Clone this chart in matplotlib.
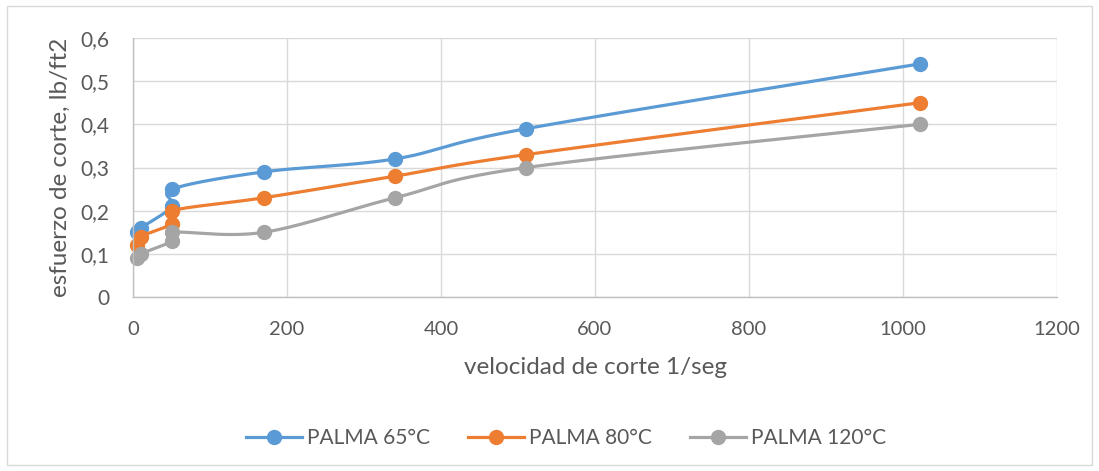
import numpy as np
import matplotlib
matplotlib.use("Agg")
import matplotlib.pyplot as plt
from matplotlib.patches import Rectangle
from matplotlib.ticker import FuncFormatter

shear_rate = [5.11, 10.22, 51.1, 51.1, 170.3, 340.6, 510.9, 1021.8]
palma_65 = [0.15, 0.16, 0.21, 0.25, 0.29, 0.32, 0.39, 0.54]
palma_80 = [0.12, 0.14, 0.17, 0.20, 0.23, 0.28, 0.33, 0.45]
palma_120 = [0.09, 0.10, 0.13, 0.15, 0.15, 0.23, 0.30, 0.40]
series_names = ["PALMA 65°C", "PALMA 80°C", "PALMA 120°C"]
colors = ["#5B9BD5", "#ED7D31", "#A5A5A5"]
x_ticks = [0, 200, 400, 600, 800, 1000, 1200]
y_ticks = [0, 0.1, 0.2, 0.3, 0.4, 0.5, 0.6]

plt.rcParams['font.family'] = ['Lato', 'DejaVu Sans']

W, H = 1099, 471
fig = plt.figure(figsize=(W / 100, H / 100), dpi=100)
ax = fig.add_axes([133 / W, 1 - 297 / H, (1057 - 133) / W, (297 - 38) / H])
ax.set_xlim(0, 1200)
ax.set_ylim(0, 0.6)
ax.set_xticks(x_ticks)
ax.set_yticks(y_ticks)
ax.yaxis.set_major_formatter(FuncFormatter(lambda v, p: ("%g" % round(v, 2)).replace('.', ',')))
ax.grid(True, color="#D9D9D9", linewidth=1.0)
ax.set_axisbelow(True)
for s in ["top", "right"]:
    ax.spines[s].set_visible(False)
for s in ["left", "bottom"]:
    ax.spines[s].set_color("#BFBFBF")
    ax.spines[s].set_linewidth(1.0)
ax.tick_params(axis='y', length=0, labelsize=15, colors="#595959", pad=17)
ax.tick_params(axis='x', length=0, labelsize=14.5, colors="#595959", pad=17)
ax.set_xlabel("velocidad de corte 1/seg", fontsize=17.5, color="#595959", labelpad=14)
ax.set_ylabel("esfuerzo de corte, lb/ft2", fontsize=17.5, color="#595959", labelpad=7)


def smooth(xs, ys, n=30):
    # Catmull-Rom / Excel-like smoothing in display coordinates
    pts = ax.transData.transform(np.column_stack([xs, ys]))
    out = [pts[0]]
    m = len(pts)
    for i in range(m - 1):
        p0 = pts[i - 1] if i > 0 else pts[i]
        p1 = pts[i]
        p2 = pts[i + 1]
        p3 = pts[i + 2] if i + 2 < m else pts[i + 1]
        c1 = p1 + (p2 - p0) / 6.0
        c2 = p2 - (p3 - p1) / 6.0
        t = np.linspace(0, 1, n)[1:, None]
        seg = ((1 - t) ** 3) * p1 + 3 * ((1 - t) ** 2) * t * c1 + 3 * (1 - t) * t ** 2 * c2 + t ** 3 * p2
        out.extend(seg)
    out = np.array(out)
    d = ax.transData.inverted().transform(out)
    return d[:, 0], d[:, 1]


for name, ys, c in zip(series_names, [palma_65, palma_80, palma_120], colors):
    sx, sy = smooth(shear_rate, ys)
    ax.plot(sx, sy, color=c, lw=2.3, solid_capstyle='round', clip_on=False)
    ax.plot(shear_rate, ys, 'o', color=c, ms=10, clip_on=False)
    ax.plot([], [], '-o', color=c, lw=2.3, ms=10, label=name)

leg = fig.legend(loc='center', bbox_to_anchor=(0.515, 1 - 438 / H), ncol=3, frameon=False,
                 fontsize=15, handlelength=2.7, columnspacing=1.8, handletextpad=0.25)
for t in leg.get_texts():
    t.set_color("#595959")

fig.patches.append(Rectangle((7 / W, 6 / H), (W - 14) / W, (H - 12) / H, transform=fig.transFigure,
                             fill=False, edgecolor="#D9D9D9", linewidth=1.0))
fig.savefig("out.png", dpi=100)
